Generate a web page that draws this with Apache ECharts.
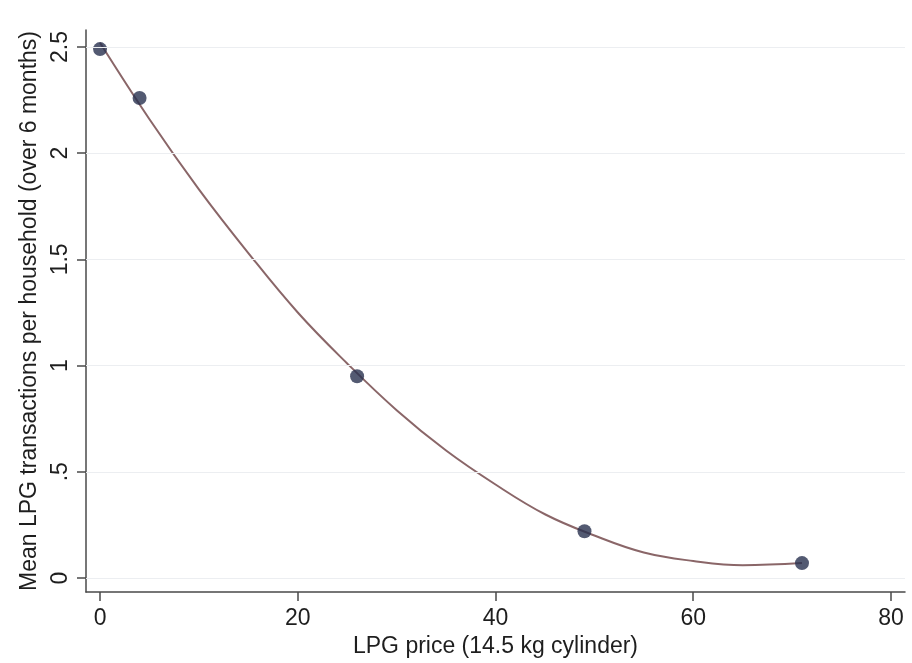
<!DOCTYPE html>
<html>
<head>
<meta charset="utf-8">
<script src="https://cdn.jsdelivr.net/npm/echarts@6/dist/echarts.min.js"></script>
<style>
  html, body { margin: 0; padding: 0; background: #ffffff; }
  #chart { width: 912px; height: 663px; }
</style>
</head>
<body>
<div id="chart"></div>
<script>
// Observed mean transactions by LPG price
const priceValues = [0, 4, 26, 49, 71];
const meanTransactions = [2.49, 2.26, 0.95, 0.22, 0.07];

// Quadratic fit line, sampled along the price range
const fitPrices = [0, 5, 10, 15, 20, 25, 30, 35, 40, 45, 50, 55, 60, 65, 71];
const fitValues = [2.52, 2.16, 1.83, 1.53, 1.25, 1.01, 0.79, 0.60, 0.44, 0.30, 0.20, 0.12, 0.08, 0.06, 0.07];

// Axis ticks and labels
const xTicks = [0, 20, 40, 60, 80];
const yTicks = [0, 0.5, 1, 1.5, 2, 2.5];
const yTickLabels = ['0', '.5', '1', '1.5', '2', '2.5'];

const font = 'Liberation Sans, Arial, Helvetica, sans-serif';
const textColor = '#1e1e1e';
const axisColor = '#4a4a4a';
const fontSize = 23;

const chart = echarts.init(document.getElementById('chart'), null, { renderer: 'canvas' });

chart.setOption({
  backgroundColor: '#ffffff',
  animation: false,
  grid: { left: 86, right: 7, top: 30, bottom: 69, containLabel: false },
  xAxis: {
    type: 'value',
    min: -1.42,
    max: 81.42,
    name: 'LPG price (14.5 kg cylinder)',
    nameLocation: 'middle',
    nameGap: 43,
    nameTextStyle: { fontFamily: font, fontSize: fontSize, color: textColor },
    axisLine: { show: true, onZero: false, lineStyle: { color: axisColor, width: 1.5 } },
    axisTick: { show: true, length: 9, customValues: xTicks, lineStyle: { color: axisColor, width: 1.5 } },
    axisLabel: { customValues: xTicks, fontFamily: font, fontSize: fontSize, color: textColor, margin: 15 },
    splitLine: { show: false }
  },
  yAxis: {
    type: 'value',
    min: -0.066,
    max: 2.58,
    name: 'Mean LPG transactions per household (over 6 months)',
    nameLocation: 'middle',
    nameGap: 40,
    nameRotate: 90,
    nameTextStyle: { fontFamily: font, fontSize: fontSize, color: textColor },
    axisLine: { show: true, onZero: false, lineStyle: { color: axisColor, width: 1.5 } },
    axisTick: { show: true, length: 9, customValues: yTicks, lineStyle: { color: axisColor, width: 1.5 } },
    axisLabel: {
      customValues: yTicks,
      rotate: 90,
      fontFamily: font,
      fontSize: fontSize,
      color: textColor,
      margin: 14,
      formatter: function (v) {
        const i = yTicks.indexOf(v);
        return i >= 0 ? yTickLabels[i] : '';
      }
    },
    splitLine: { show: false }
  },
  series: [
    {
      name: 'Fitted values',
      type: 'line',
      data: fitPrices.map((p, i) => [p, fitValues[i]]),
      smooth: 0.4,
      showSymbol: false,
      symbol: 'none',
      lineStyle: { color: '#8a6668', width: 2 },
      z: 3,
      markLine: {
        silent: true,
        symbol: 'none',
        label: { show: false },
        lineStyle: { color: '#eceef1', width: 1.2, type: 'solid' },
        data: yTicks.map(v => ({ yAxis: v }))
      }
    },
    {
      name: 'Mean transactions',
      type: 'scatter',
      data: priceValues.map((p, i) => [p, meanTransactions[i]]),
      symbol: 'circle',
      symbolSize: 14,
      itemStyle: { color: '#28314f' },
      z: 4
    }
  ]
});
</script>
</body>
</html>
